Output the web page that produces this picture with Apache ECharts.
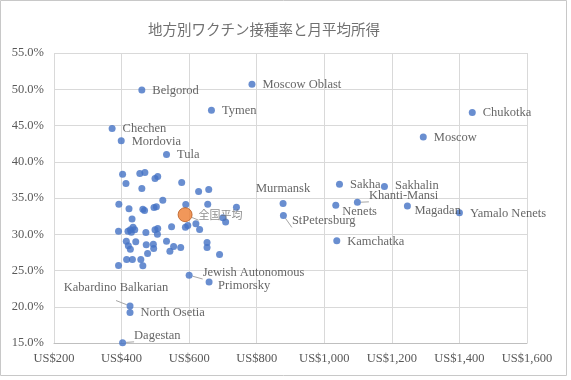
<!DOCTYPE html>
<html>
<head>
<meta charset="utf-8">
<script src="https://cdn.jsdelivr.net/npm/echarts@6/dist/echarts.min.js"></script>
<style>
html,body{margin:0;padding:0;background:#fff;}
#chart{width:571px;height:380px;}
</style>
</head>
<body>
<div id="chart"></div>
<script>
// ---- data ----
const chartTitle = '地方別ワクチン接種率と月平均所得';
const xTicks = [200, 400, 600, 800, 1000, 1200, 1400, 1600];
const yTicks = [15, 20, 25, 30, 35, 40, 45, 50, 55];

const labeledNames = ['Belgorod', 'Moscow Oblast', 'Tymen', 'Chechen', 'Mordovia', 'Tula',
  'Chukotka', 'Moscow', 'Murmansk', 'StPetersburg', 'Sakha', 'Sakhalin', 'Nenets',
  'Khanti-Mansi', 'Magadan', 'Yamalo Nenets', 'Kamchatka', 'Jewish Autonomous',
  'Primorsky', 'Kabardino Balkarian', 'North Osetia', 'Dagestan'];
const labeledIncome = [460, 786, 666, 372, 399, 533,
  1438, 1293, 878, 879, 1045, 1178, 1034,
  1098, 1246, 1400, 1037, 600,
  659, 425, 425, 403];
const labeledRate = [49.9, 50.7, 47.1, 44.6, 42.9, 41.0,
  46.8, 43.4, 34.25, 32.6, 36.9, 36.6, 34.0,
  34.4, 33.9, 32.95, 29.1, 24.35,
  23.4, 20.1, 19.2, 15.05];

const otherIncome = [403, 413, 454, 469, 499, 507, 460, 578, 628, 658,
  392, 422, 463, 468, 496, 503, 522, 590, 655, 740,
  431, 700, 708, 391, 419, 426, 434, 439, 429, 472,
  499, 507, 506, 548, 589, 596, 620, 631, 414, 420,
  426, 442, 473, 477, 494, 495, 533, 543, 554, 575,
  653, 653, 690, 415, 432, 457, 391, 463];
const otherRate = [38.26, 37.01, 38.39, 38.53, 37.70, 37.95, 36.32, 37.15, 35.91, 36.18,
  34.15, 33.53, 33.46, 33.26, 33.70, 33.78, 34.68, 34.09, 34.13, 33.71,
  32.12, 32.29, 31.70, 30.43, 30.43, 30.63, 30.98, 30.63, 30.29, 30.25,
  30.63, 30.80, 30.01, 31.02, 30.98, 31.19, 31.46, 30.66, 29.04, 28.42,
  27.94, 28.98, 28.56, 27.35, 28.63, 28.04, 29.02, 27.66, 28.31, 28.17,
  28.87, 28.17, 27.21, 26.53, 26.53, 26.53, 25.70, 25.66];

const avgName = '全国平均';
const avgIncome = 588;
const avgRate = 32.7;

// ---- label placement (style only) ----
const labelPlace = {
  'Murmansk': {position: 'top', distance: 5},
  'StPetersburg': {distance: 5, offset: [0, 5.5], line: true},
  'Khanti-Mansi': {distance: 8, offset: [0, -7], line: true},
  'Nenets': {distance: 3, offset: [0, 6.5]},
  'Sakhalin': {distance: 7, offset: [0, -1]},
  'Magadan': {distance: 3.5, offset: [0, 5]},
  'Jewish Autonomous': {distance: 10, offset: [0, -2.7], line: true},
  'Primorsky': {distance: 5.5, offset: [0, 3.7]},
  'Kabardino Balkarian': {position: 'top', distance: 8.5, offset: [-14, 0], line: true},
  'Dagestan': {distance: 8, offset: [0, -7.3], line: true}
};

const lineStyle = {color: '#a6a6a6', width: 1};
const labeledData = labeledNames.map((n, i) => {
  const p = labelPlace[n] || {};
  const item = {
    name: n,
    value: [labeledIncome[i], labeledRate[i]],
    label: {
      show: true,
      position: p.position || 'right',
      distance: p.distance != null ? p.distance : 7,
      offset: p.offset || [0, 0.5]
    }
  };
  if (p.line) item.labelLine = {show: true, lineStyle: lineStyle};
  return item;
});
const otherData = otherIncome.map((v, i) => [v, otherRate[i]]);

const fmtUSD = v => 'US$' + Number(v).toLocaleString('en-US');
const serif = '"Liberation Serif", "DejaVu Serif", serif';

const chart = echarts.init(document.getElementById('chart'), null, {renderer: 'canvas'});
chart.setOption({
  animation: false,
  backgroundColor: '#ffffff',
  title: {
    text: chartTitle,
    left: 143,
    top: 17,
    textStyle: {
      fontFamily: '"Noto Sans CJK JP", sans-serif',
      fontSize: 14.5,
      fontWeight: 'normal',
      color: '#707070'
    }
  },
  graphic: [{
    type: 'rect',
    shape: {x: 0.5, y: 0.5, width: 566, height: 375},
    style: {fill: 'none', stroke: '#c8c8c8', lineWidth: 1},
    silent: true,
    z: -1
  }],
  grid: {left: 54, right: 44, top: 53, bottom: 37, containLabel: false},
  xAxis: {
    type: 'value',
    min: xTicks[0],
    max: xTicks[xTicks.length - 1],
    interval: xTicks[1] - xTicks[0],
    axisLine: {show: true, lineStyle: {color: '#bfbfbf'}},
    axisTick: {show: false},
    splitLine: {show: true, lineStyle: {color: '#d9d9d9'}},
    axisLabel: {
      margin: 9,
      color: '#595959',
      fontFamily: serif,
      fontSize: 12.5,
      formatter: fmtUSD
    }
  },
  yAxis: {
    type: 'value',
    min: yTicks[0],
    max: yTicks[yTicks.length - 1],
    interval: yTicks[1] - yTicks[0],
    axisLine: {show: false},
    axisTick: {show: false},
    splitLine: {show: true, lineStyle: {color: '#d9d9d9'}},
    axisLabel: {
      margin: 10,
      color: '#595959',
      fontFamily: serif,
      fontSize: 12.5,
      formatter: v => Number(v).toFixed(1) + '%'
    }
  },
  series: [
    {
      type: 'scatter',
      symbolSize: 7,
      itemStyle: {color: '#4472C4'},
      data: otherData,
      z: 2
    },
    {
      type: 'scatter',
      symbolSize: 7,
      itemStyle: {color: '#4472C4'},
      label: {
        show: true,
        formatter: '{b}',
        color: '#404040',
        fontFamily: serif,
        fontSize: 12.5
      },
      labelLine: {show: false, lineStyle: lineStyle},
      data: labeledData,
      z: 3
    },
    {
      type: 'scatter',
      symbolSize: 14,
      itemStyle: {color: '#ED7D31', borderColor: '#B85A1E', borderWidth: 1},
      label: {
        show: true,
        formatter: '{b}',
        position: 'right',
        distance: 6,
        color: '#6f6f6f',
        fontFamily: '"Noto Sans CJK JP", sans-serif',
        fontSize: 11
      },
      labelLine: {show: true, lineStyle: lineStyle},
      data: [{name: avgName, value: [avgIncome, avgRate]}],
      z: 4
    }
  ]
});
</script>
</body>
</html>
